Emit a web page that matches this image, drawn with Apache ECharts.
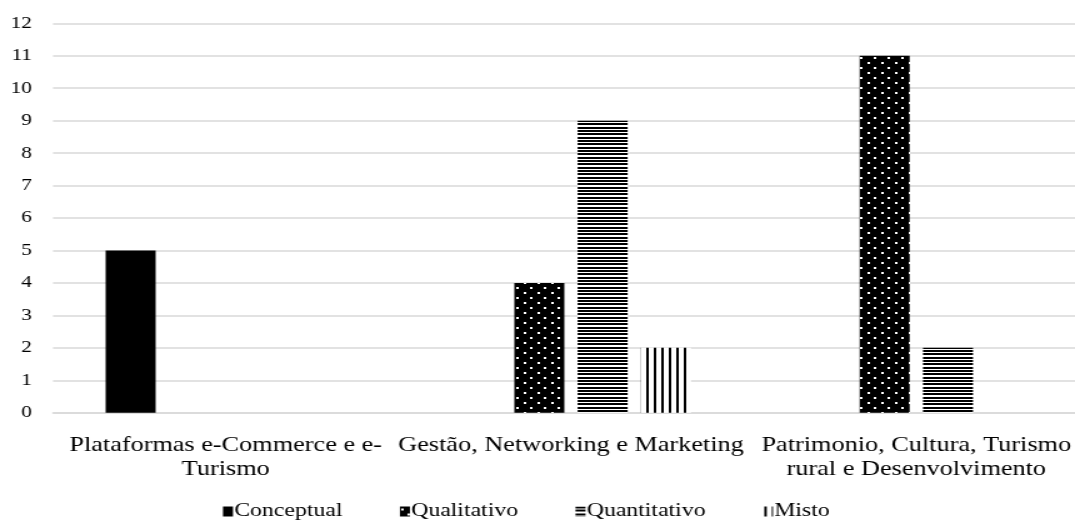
<!DOCTYPE html>
<html>
<head>
<meta charset="utf-8">
<script src="https://cdn.jsdelivr.net/npm/echarts@6/dist/echarts.min.js"></script>
<style>
html,body{margin:0;padding:0;background:#fff;overflow:hidden;}
#chart{width:860px;height:523px;transform:scaleX(1.25);transform-origin:0 0;}
</style>
</head>
<body>
<div id="chart"></div>
<script>
const categories = [
  'Plataformas e-Commerce e e-\nTurismo',
  'Gestão, Networking e Marketing',
  'Patrimonio, Cultura, Turismo\nrural e Desenvolvimento'
];
const seriesNames = ['Conceptual', 'Qualitativo', 'Quantitativo', 'Misto'];
const conceptual = [5, 0, 0];
const qualitativo = [0, 4, 11];
const quantitativo = [0, 9, 2];
const misto = [0, 2, 0];
const yTicks = [0,1,2,3,4,5,6,7,8,9,10,11,12];

function makeTile(w, h, draw) {
  const c = document.createElement('canvas');
  c.width = w; c.height = h;
  const ctx = c.getContext('2d');
  draw(ctx, w, h);
  return c;
}
const dotTile = makeTile(11, 10, (ctx, w, h) => {
  ctx.fillStyle = '#000'; ctx.fillRect(0, 0, w, h);
  ctx.fillStyle = '#fff';
  ctx.fillRect(1, 2, 2, 2);
  ctx.fillRect(6, 7, 2, 2);
});
const hTile = makeTile(4, 10, (ctx, w, h) => {
  ctx.fillStyle = '#fff'; ctx.fillRect(0, 0, w, h);
  ctx.fillStyle = '#000';
  ctx.fillRect(0, 0, w, 2);
  ctx.fillRect(0, 3, w, 2);
  ctx.fillRect(0, 7, w, 2);
});
const vTile = makeTile(12, 4, (ctx, w, h) => {
  ctx.fillStyle = '#fff'; ctx.fillRect(0, 0, w, h);
  ctx.fillStyle = '#000';
  ctx.fillRect(1, 0, 2, h);
  ctx.fillRect(7, 0, 2, h);
});
const fills = [
  '#000000',
  { image: dotTile, repeat: 'repeat' },
  { image: hTile, repeat: 'repeat' },
  { image: vTile, repeat: 'repeat' }
];
const values = [conceptual, qualitativo, quantitativo, misto];

const font = '"Liberation Serif", "Times New Roman", serif';
const chart = echarts.init(document.getElementById('chart'), null, { renderer: 'canvas' });
chart.setOption({
  animation: false,
  backgroundColor: '#fff',
  textStyle: { fontFamily: font },
  grid: { left: 42.4, top: 23.3, width: 828.8, height: 389.4, containLabel: false, outerBoundsMode: 'none' },
  legend: {
    top: 497,
    left: 173.4,
    icon: 'rect',
    itemWidth: 8,
    itemHeight: 10,
    itemGap: 46,
    textStyle: { fontFamily: font, fontSize: 19, color: '#000', padding: [0, 0, 0, -4] },
    data: seriesNames
  },
  xAxis: {
    type: 'category',
    data: categories,
    axisLine: { lineStyle: { color: '#d9d9d9', width: 1.5 } },
    axisTick: { show: false },
    axisLabel: { fontFamily: font, fontSize: 21, color: '#000', lineHeight: 24, margin: 21, interval: 0 }
  },
  yAxis: {
    type: 'value',
    min: yTicks[0],
    max: yTicks[yTicks.length - 1],
    interval: 1,
    axisLine: { show: false },
    axisTick: { show: false },
    splitLine: { lineStyle: { color: '#d9d9d9', width: 1.5 } },
    axisLabel: { fontFamily: font, fontSize: 17, color: '#000', margin: 16.8 }
  },
  series: seriesNames.map((n, i) => ({
    name: n,
    type: 'bar',
    data: values[i],
    barWidth: 40,
    barGap: '26.7%',
    itemStyle: { color: fills[i] }
  }))
});
</script>
</body>
</html>
